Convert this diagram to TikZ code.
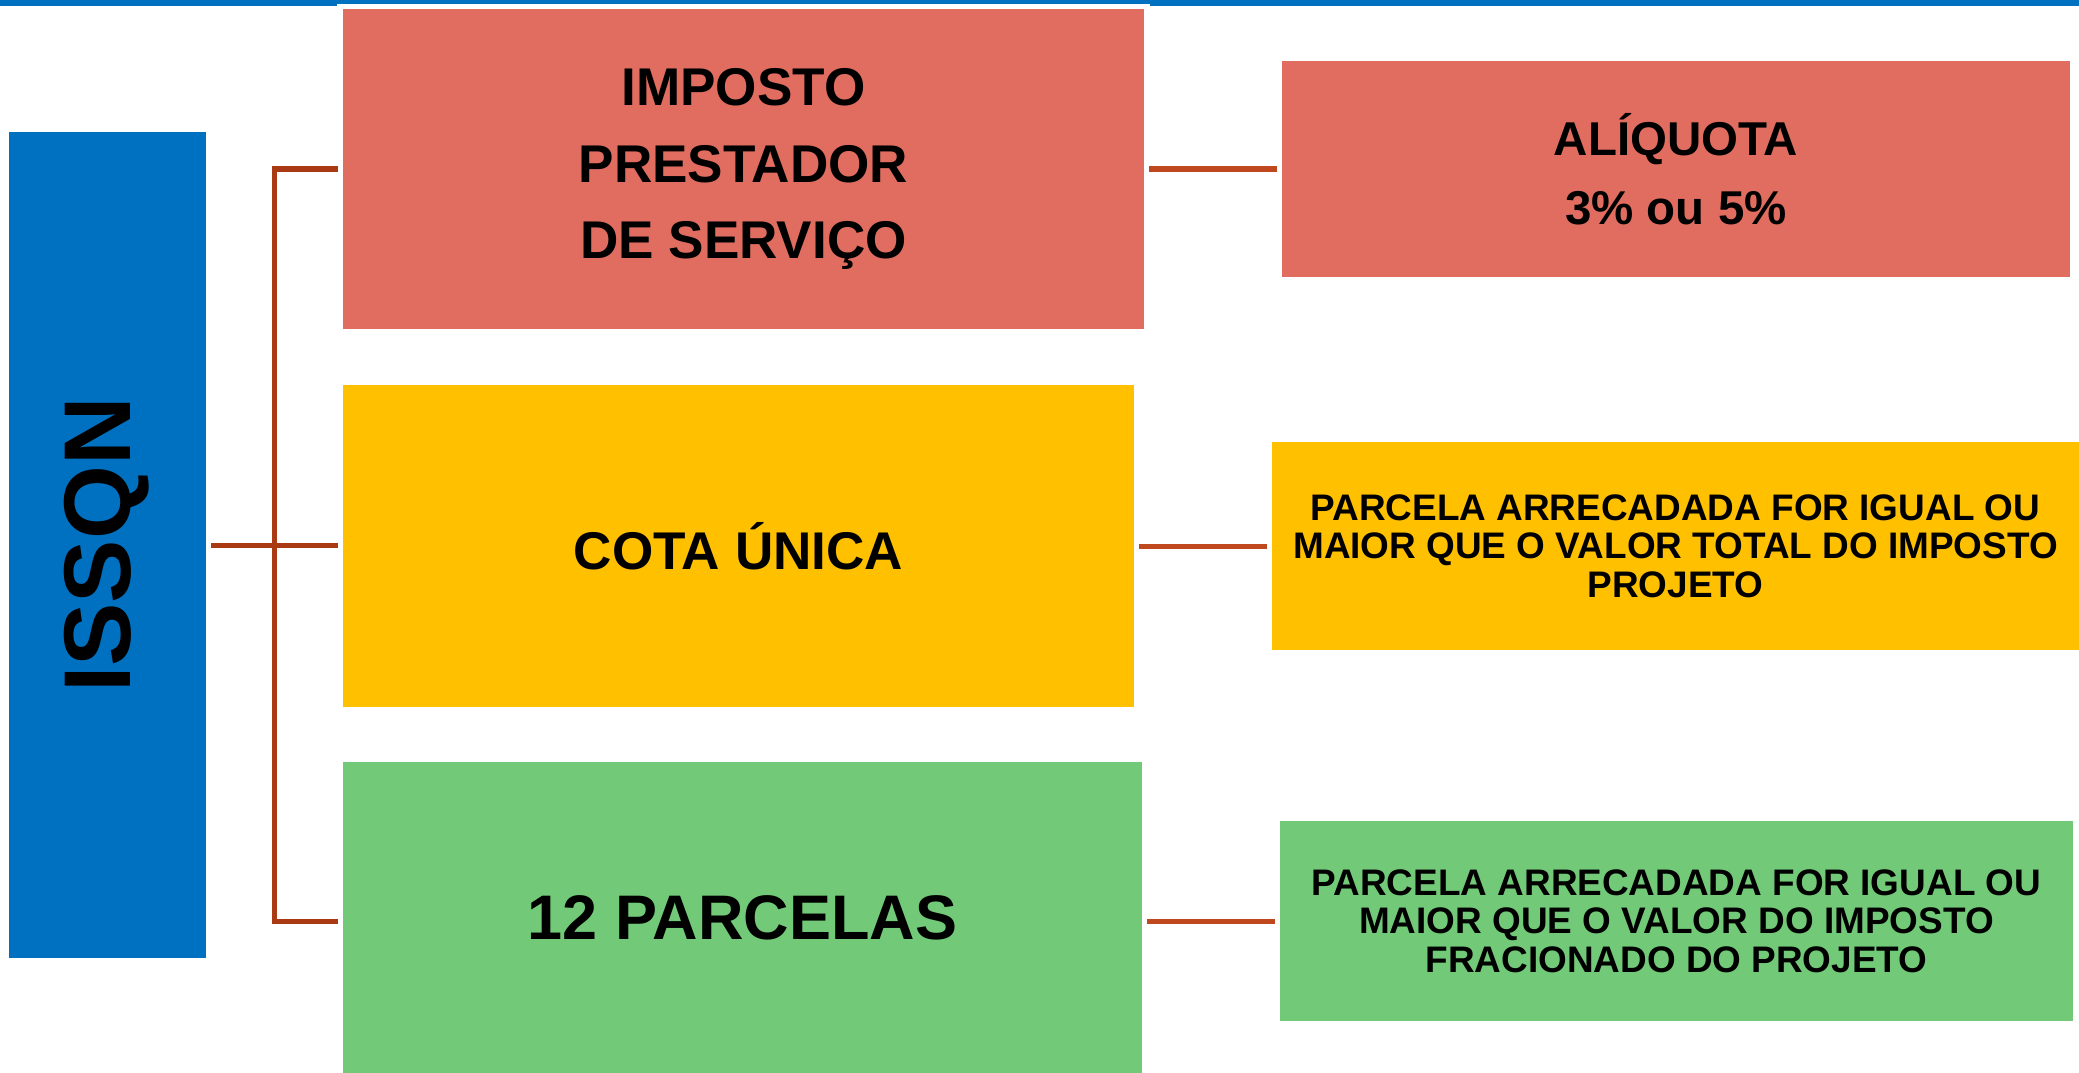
\documentclass[tikz,border=0pt]{standalone}
\usepackage{fontspec}
\setmainfont{Liberation Sans}
\usepackage{tikz}

\definecolor{issqnblue}{RGB}{0,112,192}
\definecolor{impred}{RGB}{225,109,96}
\definecolor{cotayellow}{RGB}{255,192,0}
\definecolor{parcgreen}{RGB}{114,202,120}
\definecolor{linkbrown}{RGB}{170,58,20}
\definecolor{linkorange}{RGB}{192,72,30}

\tikzset{
  box/.style={inner sep=0pt, outer sep=0.05cm, align=center, text=black},
  leftfont/.style={font=\fontsize{15.1}{21.8}\selectfont\bfseries},
  aliqfont/.style={font=\fontsize{13.5}{19.6}\selectfont\bfseries},
  smallfont/.style={font=\fontsize{10.5}{11}\selectfont\bfseries},
  link/.style={draw=linkbrown, line width=0.05cm},
  linkR/.style={draw=linkorange, line width=0.05cm}
}

\begin{document}
\begin{tikzpicture}[x=0.01cm,y=-0.01cm]
\useasboundingbox (0,0) rectangle (2079,1073);
% top rule
\fill[issqnblue] (0,0) rectangle (2079,6);
\fill[white] (337,4) rectangle (1150,20);

\node[box, fill=issqnblue, minimum width=1.97cm, minimum height=8.26cm] (issqn) at (107.5,545) {};
\node[font=\fontsize{27}{30}\selectfont\bfseries, rotate=90, inner sep=0pt] (issqntext) at (107,545) {ISSQN};

\node[box, leftfont, fill=impred, minimum width=8.01cm, minimum height=3.2cm] (imp) at (743.5,169) {IMPOSTO\\PRESTADOR\\DE SERVIÇO};
\node[box, leftfont, fill=cotayellow, minimum width=7.91cm, minimum height=3.22cm] (cota) at (738.5,546) {COTA ÚNICA};
\node[box, font=\fontsize{17.9}{21}\selectfont\bfseries, fill=parcgreen, minimum width=7.99cm, minimum height=3.11cm] (parc) at (742.5,917.5) {12 PARCELAS};

\node[box, aliqfont, fill=impred, minimum width=7.88cm, minimum height=2.16cm] (aliq) at (1676,169) {ALÍQUOTA\\3\% ou 5\%};
\node[box, smallfont, fill=cotayellow, minimum width=8.07cm, minimum height=2.08cm] (cotaR) at (1675.5,546) {PARCELA ARRECADADA FOR IGUAL OU\\MAIOR QUE O VALOR TOTAL DO IMPOSTO\\PROJETO};
\node[box, smallfont, fill=parcgreen, minimum width=7.93cm, minimum height=2cm] (parcR) at (1676.5,921) {PARCELA ARRECADADA FOR IGUAL OU\\MAIOR QUE O VALOR DO IMPOSTO\\FRACIONADO DO PROJETO};

% connectors
\coordinate (fork) at (274,545);
\draw[link] (issqn.east) -- (fork) -- (fork -| cota.west);
\draw[link] (imp.west) -| (fork) |- (parc.west |- parcR.west);
\draw[linkR] (imp.east) -- (aliq.west);
\draw[linkR] (cota.east) -- (cotaR.west);
\draw[linkR] (parc.east |- parcR.west) -- (parcR.west);

\end{tikzpicture}
\end{document}
